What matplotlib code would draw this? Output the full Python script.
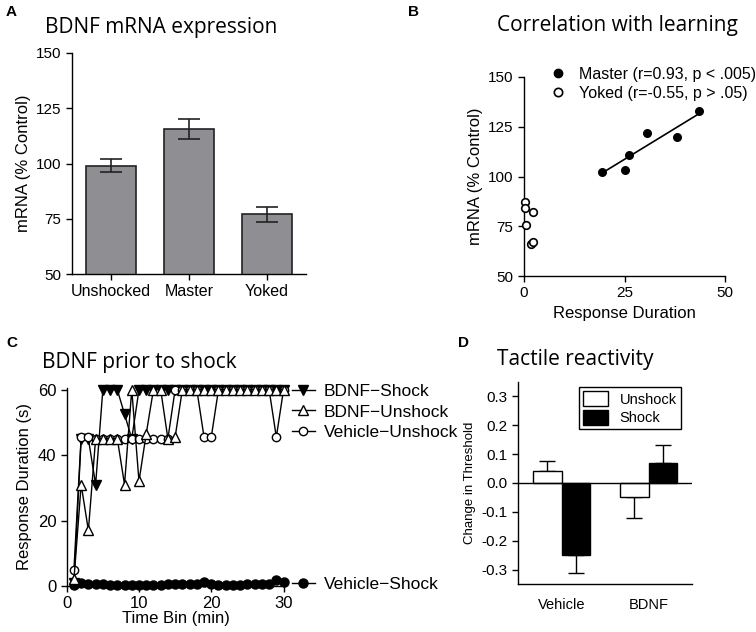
import numpy as np
import matplotlib
matplotlib.use("Agg")
import matplotlib.pyplot as plt
from matplotlib.lines import Line2D

plt.rcParams['font.family'] = ['Liberation Sans', 'DejaVu Sans']
TITLE_FONT = 'Open Sans'

# panel A
groups_a = ['Unshocked', 'Master', 'Yoked']
mrna_mean = [99, 115.5, 77]
mrna_sem = [3, 4.5, 3.5]

# panel B
master_dur = [19.5, 25, 26, 30.5, 38, 43.5]
master_mrna = [102.5, 103.5, 111, 122, 120, 133]
yoked_dur = [0.3, 0.3, 2.3, 0.5, 1.8, 2.2]
yoked_mrna = [87, 84, 82, 75.5, 66, 67]

# panel C
time_bin = list(range(1, 31))
bdnf_shock = [1, 45, 45, 31, 60, 60, 60, 52.5, 45, 60, 60, 60, 60, 60, 60,
              60, 60, 60, 60, 60, 60, 60, 60, 60, 60, 60, 60, 60, 60, 60]
bdnf_unshock = [2, 31, 17, 45, 45, 45, 45, 31, 60, 32, 46.5, 60, 60, 45, 45.5,
                60, 60, 60, 60, 60, 60, 60, 60, 60, 60, 60, 60, 60, 60, 60]
veh_unshock = [5, 45.5, 45.5, 45, 45, 45, 45, 45, 45, 45, 45, 45, 45, 45, 60,
               60, 60, 60, 45.5, 45.5, 60, 60, 60, 60, 60, 60, 60, 60, 45.5, 60]
veh_shock = [0.3, 0.8, 0.5, 0.5, 0.5, 0.4, 0.4, 0.4, 0.4, 0.4, 0.4, 0.4, 0.4, 0.5, 0.5,
             0.5, 0.5, 0.5, 1.3, 0.6, 0.4, 0.4, 0.4, 0.4, 0.5, 0.5, 0.6, 0.6, 1.8, 1.2]

# panel D
groups_d = ['Vehicle', 'BDNF']
unshock_mean = [0.04, -0.05]
unshock_err = [0.037, 0.072]
shock_mean = [-0.25, 0.07]
shock_err = [0.063, 0.063]

W, H = 756, 632
fig = plt.figure(figsize=(W / 100, H / 100), dpi=100)


def px(l, t, r, b):
    return [l / W, 1 - b / H, (r - l) / W, (b - t) / H]


def style(ax):
    for s in ['top', 'right']:
        ax.spines[s].set_visible(False)
    for s in ['left', 'bottom']:
        ax.spines[s].set_linewidth(1.0)
    ax.tick_params(labelsize=11, length=4, width=1)


# ---- A
ax = fig.add_axes(px(72, 53, 306, 274))
style(ax)
x = np.arange(len(groups_a))
ax.bar(x, mrna_mean, width=0.65, color='#8e8e93', edgecolor='#222222', linewidth=1.2)
ax.errorbar(x, mrna_mean, yerr=mrna_sem, fmt='none', ecolor='#222222', elinewidth=1.2,
            capsize=8, capthick=1.2)
ax.set_xlim(-0.5, 2.5)
ax.set_ylim(50, 150)
ax.set_yticks([50, 75, 100, 125, 150])
ax.set_xticks(x)
ax.set_xticklabels(groups_a, fontsize=11.5)
ax.set_ylabel('mRNA (% Control)', fontsize=12)
fig.text(45 / W, 1 - 27 / H, 'BDNF mRNA expression', fontsize=15, family=TITLE_FONT, va='center')
fig.text(6 / W, 1 - 12 / H, 'A', fontsize=11, weight='bold', va='center')

# ---- B
ax = fig.add_axes(px(524, 77, 725, 276))
style(ax)
ax.scatter(master_dur, master_mrna, s=30, color='black', zorder=3)
ax.scatter(yoked_dur, yoked_mrna, s=30, facecolor='white', edgecolor='black', linewidth=1.2, zorder=3,
           clip_on=False)
k, b0 = np.polyfit(master_dur, master_mrna, 1)
xl = np.array([min(master_dur), max(master_dur)])
ax.plot(xl, k * xl + b0, color='black', lw=1.2)
ax.set_xlim(0, 50)
ax.set_ylim(50, 150)
ax.set_xticks([0, 25, 50])
ax.set_yticks([50, 75, 100, 125, 150])
ax.set_xlabel('Response Duration', fontsize=12)
ax.set_ylabel('mRNA (% Control)', fontsize=12)
hb = [Line2D([], [], ls='none', marker='o', ms=6, color='black'),
      Line2D([], [], ls='none', marker='o', ms=6, mfc='white', mec='black', mew=1.2)]
fig.legend(hb, ['Master (r=0.93, p < .005)', 'Yoked (r=-0.55, p > .05)'],
           loc='upper left', bbox_to_anchor=(550 / W, 1 - 67 / H), frameon=False,
           fontsize=11.5, handlelength=1.0, handletextpad=0.8, labelspacing=0.25,
           borderaxespad=0, borderpad=0)
fig.text(497 / W, 1 - 25 / H, 'Correlation with learning', fontsize=15, family=TITLE_FONT, va='center')
fig.text(408 / W, 1 - 12 / H, 'B', fontsize=11, weight='bold', va='center')

# ---- C
ax = fig.add_axes(px(66.7, 388, 285, 586))
style(ax)
ax.plot(time_bin, veh_shock, color='black', lw=1, marker='o', ms=6.5, zorder=2, clip_on=False)
ax.plot(time_bin, bdnf_shock, color='black', lw=1, marker='v', ms=6.5, zorder=3, clip_on=False)
ax.plot(time_bin, veh_unshock, color='black', lw=1, marker='o', ms=6, mfc='white', mec='black',
        zorder=4, clip_on=False)
ax.plot(time_bin, bdnf_unshock, color='black', lw=1, marker='^', ms=7, mfc='white', mec='black',
        zorder=5, clip_on=False)
ax.set_xlim(0, 30.2)
ax.set_ylim(0, 60.5)
ax.set_xticks([0, 10, 20, 30])
ax.set_yticks([0, 20, 40, 60])
ax.tick_params(labelsize=12)
ax.set_xlabel('Time Bin (min)', fontsize=12, labelpad=0)
ax.set_ylabel('Response Duration (s)', fontsize=12)
hc = [Line2D([], [], color='black', lw=1, marker='v', ms=6.5),
      Line2D([], [], color='black', lw=1, marker='^', ms=7, mfc='white'),
      Line2D([], [], color='black', lw=1, marker='o', ms=6, mfc='white')]
fig.legend(hc, ['BDNF\u2212Shock', 'BDNF\u2212Unshock', 'Vehicle\u2212Unshock'],
           loc='upper left', bbox_to_anchor=(292 / W, 1 - 384 / H), frameon=False,
           fontsize=12.5, handlelength=1.3, handletextpad=0.55, labelspacing=0.3,
           borderaxespad=0, borderpad=0)
hv = [Line2D([], [], color='black', lw=1, marker='o', ms=6.5)]
fig.legend(hv, ['Vehicle\u2212Shock'], loc='center left', bbox_to_anchor=(292 / W, 1 - 584 / H),
           frameon=False, fontsize=12.5, handlelength=1.3, handletextpad=0.55,
           borderaxespad=0, borderpad=0)
fig.text(42 / W, 1 - 362 / H, 'BDNF prior to shock', fontsize=15, family=TITLE_FONT, va='center')
fig.text(6 / W, 1 - 343 / H, 'C', fontsize=11, weight='bold', va='center')

# ---- D
ax = fig.add_axes(px(518, 382, 692, 584))
style(ax)
xd = np.arange(len(groups_d))
bw = 0.333
ax.bar(xd - bw / 2, unshock_mean, width=bw, color='white', edgecolor='black', linewidth=1, label='Unshock')
ax.bar(xd + bw / 2, shock_mean, width=bw, color='black', edgecolor='black', linewidth=1, label='Shock')
for xi, m, e in zip(xd - bw / 2, unshock_mean, unshock_err):
    ax.errorbar([xi], [m], yerr=[[0], [e]] if m > 0 else [[e], [0]], fmt='none', ecolor='black',
                elinewidth=1, capsize=6, capthick=1, zorder=0)
for xi, m, e in zip(xd + bw / 2, shock_mean, shock_err):
    ax.errorbar([xi], [m], yerr=[[0], [e]] if m > 0 else [[e], [0]], fmt='none', ecolor='black',
                elinewidth=1, capsize=6, capthick=1, zorder=0)
ax.axhline(0, color='black', lw=1)
ax.set_xlim(-0.5, 1.5)
ax.set_ylim(-0.35, 0.35)
ax.set_yticks([-0.3, -0.2, -0.1, 0.0, 0.1, 0.2, 0.3])
ax.set_yticklabels(['-0.3', '-0.2', '-0.1', '0.0', '0.1', '0.2', '0.3'])
ax.set_xticks(xd)
ax.set_xticklabels(groups_d)
ax.tick_params(labelsize=11)
ax.tick_params(axis='x', length=0, pad=10, labelsize=10.5)
ax.set_ylabel('Change in Threshold', fontsize=9.5)
ax.legend(loc='upper right', bbox_to_anchor=(1.0 - 11 / 174, 1.0 - 5 / 202), fontsize=10.5,
          frameon=True, fancybox=False, edgecolor='black', framealpha=1,
          handlelength=1.7, handleheight=1.2, labelspacing=0.2, borderpad=0.3, borderaxespad=0)
fig.text(497 / W, 1 - 360 / H, 'Tactile reactivity', fontsize=15, family=TITLE_FONT, va='center')
fig.text(458 / W, 1 - 343 / H, 'D', fontsize=11, weight='bold', va='center')

fig.savefig('out.png', dpi=100)
